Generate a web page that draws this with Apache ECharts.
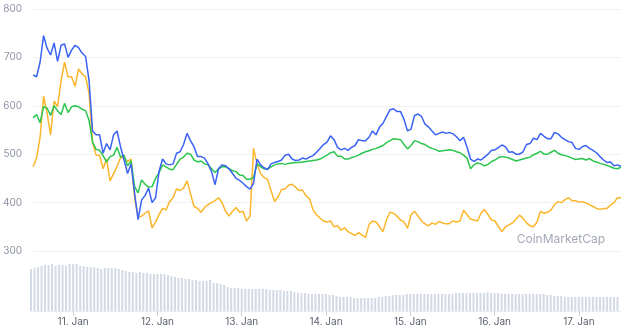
<!DOCTYPE html>
<html>
<head>
<meta charset="utf-8">
<script src="https://cdn.jsdelivr.net/npm/echarts@6/dist/echarts.min.js"></script>
<style>
  html, body { margin: 0; padding: 0; background: #fff; }
  #chart { width: 625px; height: 329px; }
</style>
</head>
<body>
<div id="chart"></div>
<script>
// x axis: one category per hour, from 10 Jan 12:00 to 17 Jan 12:00
const hourCount = 169;
const dayLabels = ['11. Jan', '12. Jan', '13. Jan', '14. Jan', '15. Jan', '16. Jan', '17. Jan'];
const firstMidnight = 12; // hour index of 11 Jan 00:00

// hourly prices
const bluePrice = [
  664, 660, 690, 745, 719, 705, 730, 692, 725, 728,
  700, 715, 725, 720, 709, 702, 652, 548, 540, 540,
  502, 522, 509, 540, 548, 515, 488, 460, 480, 420,
  365, 405, 415, 430, 400, 410, 465, 490, 480, 478,
  480, 502, 505, 520, 543, 528, 515, 495, 495, 492,
  480, 464, 437, 470, 478, 476, 470, 460, 450, 446,
  440, 433, 428, 440, 490, 478, 472, 468, 480, 483,
  485, 488, 498, 500, 490, 487, 488, 492, 490, 494,
  497, 504, 512, 520, 525, 538, 530, 514, 509, 512,
  508, 514, 518, 530, 528, 528, 535, 548, 540, 556,
  564, 578, 592, 594, 588, 588, 572, 548, 552, 580,
  583, 578, 562, 556, 548, 540, 543, 546, 543, 545,
  542, 536, 528, 535, 515, 490, 485, 490, 488, 494,
  500, 508, 509, 514, 519, 515, 504, 505, 500, 500,
  505, 520, 522, 533, 530, 543, 537, 532, 532, 545,
  542, 535, 530, 526, 524, 512, 510, 516, 518, 512,
  508, 503, 495, 488, 483, 484, 476, 478, 475
];
const greenPrice = [
  575, 582, 565, 598, 595, 580, 600, 590, 582, 605,
  586, 598, 600, 598, 593, 590, 570, 525, 510, 508,
  497, 484, 495, 498, 514, 494, 498, 476, 486, 433,
  420, 447, 438, 432, 433, 450, 462, 478, 474, 469,
  468, 479, 490, 494, 502, 500, 488, 484, 486, 480,
  478, 470, 462, 470, 474, 474, 470, 466, 464, 457,
  456, 448, 448, 452, 480, 474, 470, 469, 474, 478,
  480, 481, 479, 481, 482, 483, 483, 484, 485, 486,
  487, 488, 490, 494, 498, 503, 505, 496, 496, 490,
  490, 493, 495, 498, 502, 505, 507, 510, 512, 515,
  518, 524, 528, 532, 531, 530, 520, 511, 518, 528,
  526, 522, 520, 515, 512, 510, 506, 507, 508, 509,
  508, 505, 503, 498, 492, 470, 478, 482, 480, 476,
  479, 485, 488, 493, 495, 494, 492, 489, 486, 488,
  490, 492, 494, 499, 502, 506, 500, 500, 504, 508,
  502, 499, 497, 495, 492, 489, 490, 491, 488, 491,
  486, 484, 481, 479, 477, 474, 471, 470, 473
];
const orangePrice = [
  474, 492, 535, 620, 585, 540, 610, 598, 652, 690,
  660, 660, 640, 676, 666, 660, 625, 525, 498, 498,
  470, 490, 445, 460, 475, 493, 492, 485, 490, 410,
  370, 372, 378, 383, 348, 360, 375, 388, 385, 402,
  410, 428, 425, 430, 445, 418, 392, 388, 380, 390,
  396, 400, 404, 410, 400, 382, 372, 382, 390, 380,
  382, 362, 372, 512, 480, 460, 452, 448, 425, 402,
  412, 427, 428, 436, 438, 432, 425, 426, 414, 408,
  385, 375, 368, 362, 360, 362, 350, 352, 343, 348,
  340, 336, 332, 338, 333, 328, 355, 362, 360, 350,
  340, 365, 380, 378, 372, 364, 360, 347, 375, 382,
  372, 362, 356, 352, 358, 355, 361, 358, 356, 357,
  362, 360, 362, 384, 375, 366, 364, 362, 378, 386,
  375, 364, 362, 350, 340, 350, 354, 358, 366, 374,
  368, 358, 352, 350, 360, 382, 378, 380, 385, 396,
  402, 400, 406, 410, 404, 404, 401, 402, 399, 396,
  392, 388, 386, 388, 388, 395, 400, 410, 410
];

// volume, one bar per hour (relative height)
const volume = [
  42, 43, 44, 45, 46, 46, 47, 45, 46, 46, 45, 47, 47, 47, 45, 45, 44, 44, 44, 43,
  42, 43, 43, 43, 43, 42, 41, 40, 39, 39, 38, 39, 38, 38, 37, 37, 37, 37, 37, 36,
  35, 34, 33, 33, 32, 32, 31, 31, 30, 30, 30, 31, 28, 28, 27, 26, 24, 23, 23, 23,
  22, 22, 22, 22, 22, 22, 22, 22, 21, 21, 21, 21, 20, 20, 20, 19, 18, 18, 18, 17,
  17, 17, 17, 17, 17, 16, 16, 15, 14, 14, 14, 14, 13, 13, 13, 13, 13, 13, 13, 14,
  14, 15, 15, 16, 16, 16, 16, 17, 17, 17, 17, 17, 17, 17, 17, 17, 17, 17, 17, 17,
  17, 18, 18, 18, 18, 18, 18, 18, 18, 18, 19, 18, 18, 18, 17, 17, 17, 17, 17, 17,
  17, 17, 17, 17, 17, 17, 17, 16, 16, 15, 15, 15, 14, 14, 14, 14, 14, 14, 14, 14,
  14, 14, 14, 14, 14, 14, 14, 14
];

const hours = [];
for (let h = 0; h < hourCount; h++) hours.push(String(h));

const isMidnight = (index) => index >= firstMidnight && (index - firstMidnight) % 24 === 0;

const chart = echarts.init(document.getElementById('chart'));
chart.setOption({
  animation: false,
  backgroundColor: '#ffffff',
  grid: [
    { left: 31, right: 4, top: 9, height: 242 },
    { left: 31, right: 4, top: 262, height: 49 }
  ],
  xAxis: [
    {
      type: 'category', gridIndex: 0, data: hours, boundaryGap: false,
      axisLine: { show: false }, axisTick: { show: false }, axisLabel: { show: false },
      splitLine: { show: false }
    },
    {
      type: 'category', gridIndex: 1, data: hours, boundaryGap: false,
      axisLine: { show: true, lineStyle: { color: '#e9ecf1' } },
      axisTick: { show: true, interval: isMidnight, length: 5, lineStyle: { color: '#ccd2dc' } },
      axisLabel: {
        interval: isMidnight, color: '#5c6270', fontSize: 10, fontFamily: 'Inter, sans-serif', margin: 6,
        formatter: (v) => dayLabels[(Number(v) - firstMidnight) / 24] || ''
      },
      splitLine: { show: false }
    }
  ],
  yAxis: [
    {
      type: 'value', gridIndex: 0, min: 300, max: 800, interval: 100,
      axisLine: { show: false }, axisTick: { show: false },
      axisLabel: { color: '#8c93a3', fontSize: 10, fontFamily: 'Inter, sans-serif', margin: 11 },
      splitLine: { lineStyle: { color: '#f0f1f4', width: 1 } }
    },
    {
      type: 'value', gridIndex: 1, min: 0, max: 49,
      axisLine: { show: false }, axisTick: { show: false }, axisLabel: { show: false },
      splitLine: { show: false }
    }
  ],
  graphic: [{
    type: 'text', right: 20, top: 233,
    style: { text: 'CoinMarketCap', fill: '#a2a8b4', font: '12px Inter, sans-serif' }
  }],
  series: [
    {
      type: 'bar', xAxisIndex: 1, yAxisIndex: 1, data: volume, barWidth: 2,
      itemStyle: { color: '#d3d9e5' }, silent: true
    },
    {
      type: 'line', data: orangePrice, showSymbol: false,
      lineStyle: { color: '#fbb62c', width: 1.5 }, itemStyle: { color: '#fbb62c' }
    },
    {
      type: 'line', data: greenPrice, showSymbol: false,
      lineStyle: { color: '#2bc54d', width: 1.5 }, itemStyle: { color: '#2bc54d' }
    },
    {
      type: 'line', data: bluePrice, showSymbol: false,
      lineStyle: { color: '#3a62f5', width: 1.5 }, itemStyle: { color: '#3a62f5' }
    }
  ]
});
</script>
</body>
</html>
